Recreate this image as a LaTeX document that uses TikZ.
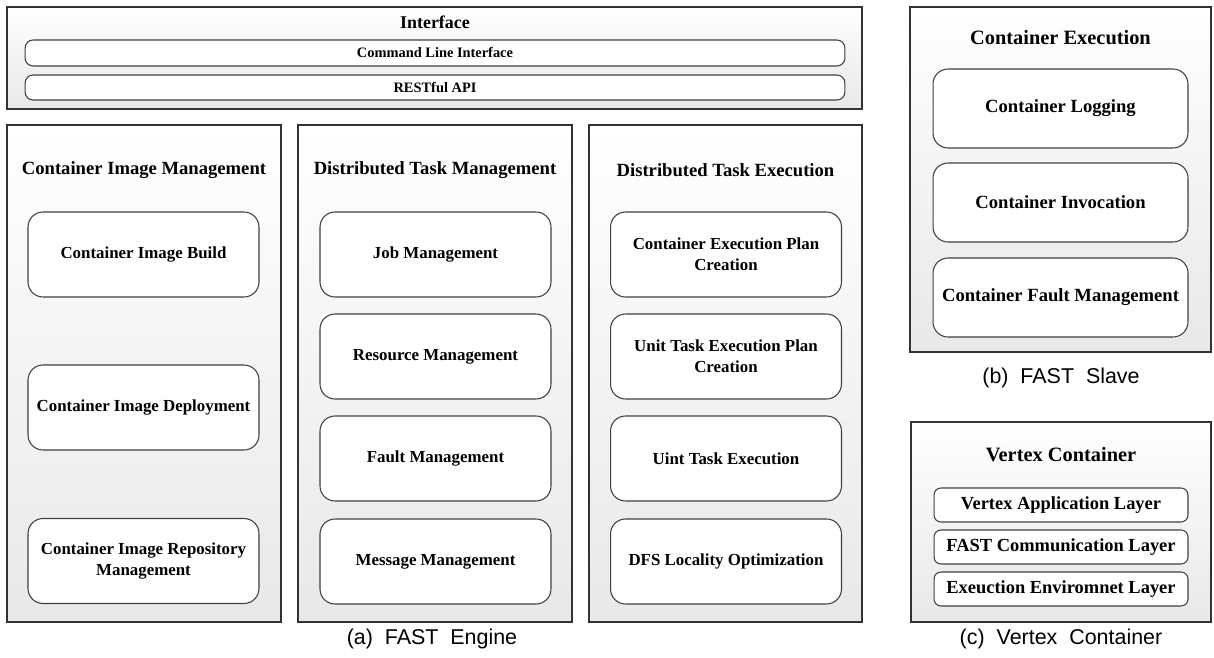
\documentclass[tikz,border=0pt]{standalone}
\usepackage{fontspec}
\setmainfont{Liberation Serif}
\newfontfamily\capfont[WordSpace=2]{Liberation Sans}
\begin{document}
\begin{tikzpicture}[
	x=0.02cm, y=-0.02cm,
	panel/.style = {draw=black!80, line width=0.7pt, top color=white, bottom color=black!9, inner sep=0pt},
	module/.style = {draw=black!75, line width=0.6pt, fill=white, rounded corners=0.3cm, align=center, inner sep=0pt, font=\bfseries\fontsize{9.6}{12}\selectfont},
	bigmodule/.style = {module, font=\bfseries\fontsize{10.6}{12.5}\selectfont},
	pill/.style = {module, rounded corners=0.16cm, font=\bfseries\fontsize{8.2}{10}\selectfont},
	layer/.style = {module, rounded corners=0.14cm, font=\bfseries\fontsize{10.5}{12}\selectfont},
	title/.style = {font=\bfseries\fontsize{10.6}{12}\selectfont},
	bigtitle/.style = {font=\bfseries\fontsize{11.6}{13}\selectfont},
	caption/.style = {font=\capfont\fontsize{12.2}{14}\selectfont},
	]
	\useasboundingbox (0,0) rectangle (1214,658);

	% interface bar
	\node[panel, minimum width=17.1cm, minimum height=2.04cm] (iface) at (434.5,58) {};
	\node[title, font=\bfseries\fontsize{10.2}{12}\selectfont] (ifacetitle) at (435,22) {Interface};
	\node[pill, minimum width=16.4cm, minimum height=0.52cm] (cli) at (435,53) {Command Line Interface};
	\node[pill, minimum width=16.4cm, minimum height=0.5cm] (rest) at (435,87.5) {RESTful API};

	% engine panels
	\node[panel, minimum width=5.48cm, minimum height=9.94cm] (cim) at (144,373.5) {};
	\node[panel, minimum width=5.48cm, minimum height=9.94cm] (dtm) at (435,373.5) {};
	\node[panel, minimum width=5.46cm, minimum height=9.94cm] (dte) at (725.5,373.5) {};
	\node[title] (cimtitle) at (144,170) {Container Image Management};
	\node[title] (dtmtitle) at (435,170) {Distributed Task Management};
	\node[title] (dtetitle) at (725.5,170) {Distributed Task Execution};

	\tikzset{every node/.append style={minimum width=4.62cm, minimum height=1.7cm}}
	\node[module] (build) at (143.5,254.5) {Container Image Build};
	\node[module] (deploy) at (143.5,407.5) {Container Image Deployment};
	\node[module] (repo) at (143.5,561) {Container Image Repository\\Management};

	\node[module] (job) at (435.5,254.5) {Job Management};
	\node[module] (resource) at (435.5,356.5) {Resource Management};
	\node[module] (fault) at (435.5,458.5) {Fault Management};
	\node[module] (message) at (435.5,561.5) {Message Management};

	\node[module] (plan) at (726,254.5) {Container Execution Plan\\Creation};
	\node[module] (unitplan) at (726,356.5) {Unit Task Execution Plan\\Creation};
	\node[module] (unitexec) at (726,458.5) {Uint Task Execution};
	\node[module] (dfs) at (726,561.5) {DFS Locality Optimization};
	\tikzset{every node/.style={}}

	% slave
	\node[panel, minimum width=6.02cm, minimum height=6.9cm] (slave) at (1060.5,179.5) {};
	\node[bigtitle] (slavetitle) at (1060.5,38) {Container Execution};
	\node[bigmodule, minimum width=5.1cm, minimum height=1.58cm] (logging) at (1060.5,108.5) {Container Logging};
	\node[bigmodule, minimum width=5.1cm, minimum height=1.58cm] (invoke) at (1060.5,202.5) {Container Invocation};
	\node[bigmodule, minimum width=5.1cm, minimum height=1.58cm] (cfault) at (1060.5,297.5) {Container Fault Management};

	% vertex container
	\node[panel, minimum width=6cm, minimum height=4cm] (vertex) at (1061,522) {};
	\node[bigtitle] (vertextitle) at (1061,455) {Vertex Container};
	\node[layer, minimum width=5.08cm, minimum height=0.68cm] (app) at (1061,505) {Vertex Application Layer};
	\node[layer, minimum width=5.08cm, minimum height=0.68cm] (comm) at (1061,547) {FAST Communication Layer};
	\node[layer, minimum width=5.08cm, minimum height=0.68cm] (env) at (1061,589) {Exeuction Enviromnet Layer};

	% captions
	\node[caption] (capa) at (432,639) {(a) FAST Engine};
	\node[caption] (capb) at (1061,378) {(b) FAST Slave};
	\node[caption] (capc) at (1061,639) {(c) Vertex Container};
\end{tikzpicture}
\end{document}
